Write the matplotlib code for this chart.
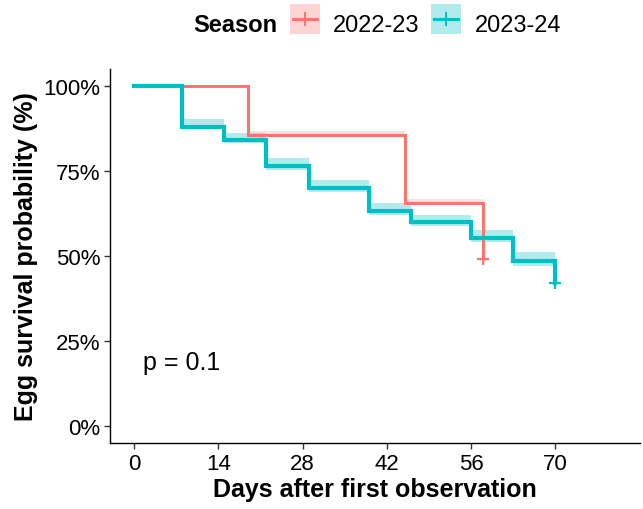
import numpy as np
import matplotlib.pyplot as plt
from matplotlib.patches import Rectangle
from matplotlib.lines import Line2D

plt.rcParams['font.family'] = ['Liberation Sans', 'DejaVu Sans']

# Kaplan-Meier estimates per season (days, survival proportion)
days_2223 = [0, 19, 45, 58]
surv_2223 = [1.0, 0.857, 0.655, 0.49]
upper_2223 = [1.0, 0.868, 0.668, 0.49]
lower_2223 = [1.0, 0.857, 0.655, 0.49]

days_2324 = [0, 8, 15, 22, 29, 39, 46, 56, 63, 70]
surv_2324 = [1.0, 0.88, 0.84, 0.765, 0.70, 0.633, 0.60, 0.553, 0.486, 0.42]
upper_2324 = [1.0, 0.902, 0.862, 0.788, 0.722, 0.656, 0.622, 0.577, 0.512, 0.42]
lower_2324 = [1.0, 0.88, 0.832, 0.754, 0.688, 0.622, 0.588, 0.54, 0.472, 0.42]

seasons = ["2022-23", "2023-24"]
colors = ["#F8766D", "#00BFC4"]
p_text = "p = 0.1"

fig = plt.figure(figsize=(6.43, 5.10), dpi=100)
ax = fig.add_axes([0.171, 0.129, 0.824, 0.734])

series = [
    (days_2223, surv_2223, upper_2223, lower_2223, 2.2, 0.22),
    (days_2324, surv_2324, upper_2324, lower_2324, 3.0, 0.3),
]
for (d, s, up, lo, lw, a), col in zip(series, colors):
    d = np.asarray(d, float)
    s = np.asarray(s, float)
    # confidence band, one block per step
    for i in range(len(d) - 1):
        ax.fill_between([d[i], d[i + 1]], lo[i], up[i], color=col,
                        alpha=a, lw=0, zorder=1)
    ax.step(d, s, where='post', color=col, lw=lw, zorder=3,
            solid_joinstyle='miter')
    ax.plot(d[-1], s[-1], marker='+', color=col, ms=9, mew=1.6, zorder=4)

ax.text(1.5, 0.19, p_text, fontsize=18, ha='left', va='center')

ax.set_xlim(-4, 84)
ax.set_ylim(-0.05, 1.05)
ax.set_xticks([0, 14, 28, 42, 56, 70])
ax.set_yticks([0, 0.25, 0.5, 0.75, 1.0])
ax.set_yticklabels(["0%", "25%", "50%", "75%", "100%"])
ax.tick_params(labelsize=16, length=4, width=1, color='#333333',
               labelcolor='black', pad=3)
for side in ['top', 'right']:
    ax.spines[side].set_visible(False)
for side in ['left', 'bottom']:
    ax.spines[side].set_linewidth(1.0)
ax.set_xlabel("Days after first observation", fontsize=18,
              fontweight='bold', labelpad=2)
ax.set_ylabel("Egg survival probability (%)", fontsize=18,
              fontweight='bold', labelpad=4)

# legend across the top
W, H = fig.get_size_inches() * fig.dpi
fig.text(193 / W, 1 - 32 / H, "Season", fontsize=17, fontweight='bold',
         ha='left', va='baseline')
key_x = [290, 431]
text_x = [333, 475]
for kx, tx, col, lab in zip(key_x, text_x, colors, seasons):
    fig.patches.append(Rectangle((kx / W, 1 - 35 / H), 30 / W, 30 / H,
                                 transform=fig.transFigure, facecolor=col,
                                 alpha=0.3, lw=0))
    fig.lines.append(Line2D([(kx + 3) / W, (kx + 27) / W],
                            [1 - 20 / H, 1 - 20 / H],
                            transform=fig.transFigure, color=col, lw=2.2))
    fig.lines.append(Line2D([(kx + 15) / W, (kx + 15) / W],
                            [1 - 14 / H, 1 - 26 / H],
                            transform=fig.transFigure, color=col, lw=1.4))
    fig.text(tx / W, 1 - 32 / H, lab, fontsize=17, ha='left', va='baseline')

fig.savefig("out.png", dpi=100)
